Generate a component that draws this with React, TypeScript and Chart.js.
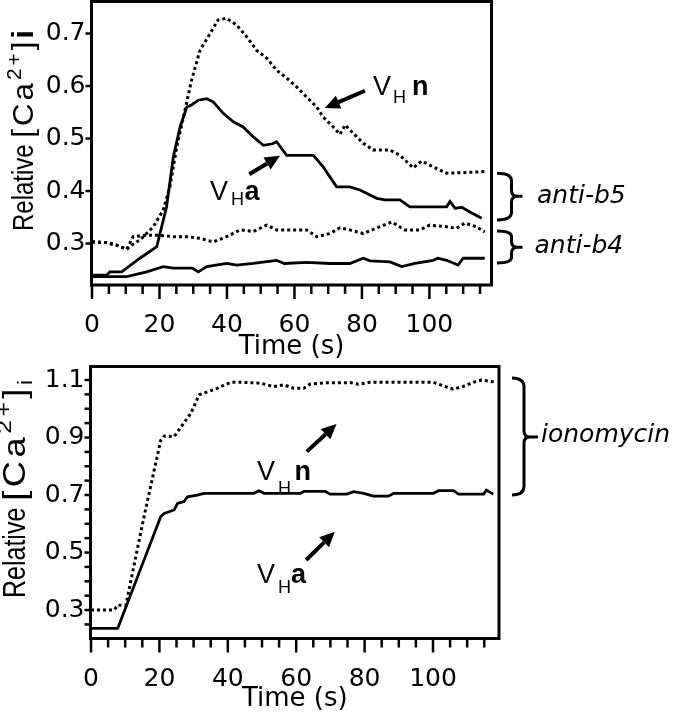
import { useEffect, useRef } from 'react';
import { Chart, registerables } from 'chart.js';
Chart.register(...registerables);

const SANS = '"Liberation Sans", Arial, sans-serif';
const WIDE = '"DejaVu Sans", sans-serif';

// ---------- Top panel: anti-b5 / anti-b4 ----------
const topN5Time = [0, 4, 7.3, 10.3, 12, 14.2, 16, 18.2, 21.1, 23.1, 25.1, 27.1, 29.5, 32, 35, 37.4, 39.9, 42.9, 45.8, 48.8, 51.8, 54.7, 57.7, 60.7, 63.6, 66.6, 68.5, 71.5, 73.5, 75, 77.4, 80.4, 83.3, 88.3, 91.3, 95.2, 97.7, 101.1, 105.1, 110, 116.4];
const topN5Val = [0.303, 0.302, 0.297, 0.289, 0.298, 0.307, 0.318, 0.332, 0.364, 0.408, 0.484, 0.541, 0.611, 0.668, 0.7, 0.726, 0.729, 0.716, 0.694, 0.668, 0.653, 0.63, 0.615, 0.598, 0.579, 0.56, 0.541, 0.522, 0.508, 0.526, 0.51, 0.491, 0.478, 0.478, 0.468, 0.444, 0.457, 0.446, 0.434, 0.435, 0.437];

const topA5Time = [0, 4.4, 5.3, 8.8, 14.2, 19.2, 22.1, 24.1, 26.1, 28.1, 29.5, 31.5, 34, 35.9, 38.9, 41.9, 44.8, 47.8, 50.8, 53.5, 54.7, 57.7, 65.6, 68.5, 72.5, 76.4, 79.4, 84.4, 86.8, 91.3, 94.2, 105.1, 106.1, 107.6, 109.6, 112, 115.5];
const topA5Val = [0.24, 0.24, 0.246, 0.246, 0.272, 0.294, 0.37, 0.465, 0.522, 0.56, 0.564, 0.573, 0.576, 0.57, 0.548, 0.532, 0.522, 0.503, 0.487, 0.49, 0.494, 0.468, 0.468, 0.446, 0.408, 0.408, 0.402, 0.386, 0.383, 0.383, 0.37, 0.37, 0.38, 0.367, 0.369, 0.36, 0.348];

const topN4Time = [0, 4, 7.3, 10.3, 12.2, 16.2, 19.2, 24.1, 28.1, 32, 35.9, 39.9, 43.9, 47.8, 51.8, 54.7, 63.6, 66.6, 70.5, 73.5, 76.4, 80.4, 85.3, 88.8, 92.7, 97.2, 100.1, 105.1, 108, 110.5, 113.9, 116.4];
const topN4Val = [0.303, 0.302, 0.297, 0.289, 0.313, 0.316, 0.316, 0.313, 0.313, 0.31, 0.303, 0.313, 0.326, 0.323, 0.335, 0.326, 0.326, 0.313, 0.319, 0.33, 0.326, 0.319, 0.332, 0.341, 0.326, 0.326, 0.335, 0.332, 0.329, 0.339, 0.332, 0.322];

const topA4Time = [0, 10.3, 16.2, 21.1, 24.1, 29.8, 31.5, 34, 39.9, 42.9, 47.8, 54.7, 57, 63.6, 70.5, 76.4, 80.4, 82.4, 88.3, 91.8, 95.7, 101.1, 102.5, 105.1, 108.5, 110, 116.4];
const topA4Val = [0.237, 0.237, 0.246, 0.256, 0.253, 0.253, 0.246, 0.256, 0.262, 0.259, 0.262, 0.268, 0.262, 0.264, 0.262, 0.262, 0.272, 0.267, 0.265, 0.256, 0.262, 0.268, 0.272, 0.268, 0.259, 0.272, 0.272];

const topXTicks = [0, 5, 10, 15, 20, 25, 30, 35, 40, 45, 50, 55, 60, 65, 70, 75, 80, 85, 90, 95, 100, 105, 110, 115];
const topXLabels = [0, 20, 40, 60, 80, 100];
const topYTicks = [0.3, 0.4, 0.5, 0.6, 0.7];
const topYLabels = [0.3, 0.4, 0.5, 0.6, 0.7];

// ---------- Bottom panel: ionomycin ----------
const botNTime = [0, 6.8, 7.8, 10.2, 15.5, 20.4, 21.4, 24.3, 26.7, 29.2, 31.6, 34, 36.9, 40.8, 43.7, 49.6, 53.4, 56.4, 59.3, 62.2, 64.1, 68, 75.8, 78.2, 81.6, 100.1, 103, 105.9, 108.9, 111.8, 114.2, 118.6];
const botNVal = [0.3, 0.3, 0.317, 0.317, 0.625, 0.891, 0.905, 0.903, 0.943, 0.984, 1.048, 1.059, 1.071, 1.092, 1.092, 1.089, 1.077, 1.083, 1.071, 1.071, 1.086, 1.09, 1.091, 1.085, 1.092, 1.092, 1.08, 1.068, 1.078, 1.092, 1.1, 1.092];

const botATime = [0, 7.8, 20.4, 21.4, 24.3, 25.3, 27.2, 28.2, 31.1, 33, 47.6, 49.1, 50.6, 61.3, 62.3, 68.5, 69.9, 74.8, 76.8, 79.7, 82.6, 87, 88.5, 100.1, 101.6, 106, 107.5, 114.8, 115.6, 117.6];
const botAVal = [0.236, 0.236, 0.625, 0.636, 0.648, 0.671, 0.677, 0.694, 0.7, 0.706, 0.706, 0.715, 0.706, 0.706, 0.713, 0.713, 0.703, 0.703, 0.712, 0.706, 0.696, 0.696, 0.706, 0.706, 0.715, 0.715, 0.703, 0.703, 0.717, 0.703];

const botXTicks = [0, 5, 10, 15, 20, 25, 30, 35, 40, 45, 50, 55, 60, 65, 70, 75, 80, 85, 90, 95, 100, 105, 110, 115];
const botXLabels = [0, 20, 40, 60, 80, 100];
const botYTicks = [0.25, 0.3, 0.35, 0.4, 0.45, 0.5, 0.55, 0.6, 0.65, 0.7, 0.75, 0.8, 0.85, 0.9, 0.95, 1.0, 1.05, 1.1];
const botYLabels = [0.3, 0.5, 0.7, 0.9, 1.1];

const has = (arr: number[], v: number) => arr.some((a) => Math.abs(a - v) < 1e-6);
const pts = (t: number[], v: number[]) => t.map((x, i) => ({ x, y: v[i] }));

type VH = { t: number; v: number; letter: string; hGap: number; hDy: number; gap: number };
type Arrow = { t1: number; v1: number; t2: number; v2: number };
type Brace = { v1: number; vMid: number; v2: number; xL: number; xV: number; xTip: number; text: string; textDx: number; textV: number };
type YTitle = { dx: number; dyFromBottom: number; subI: boolean; size: number; perp: number; brStretch: number; brGap: number };
type Ann = {
  xMajor: number[];
  yTitle: YTitle;
  labels: VH[];
  arrows: Arrow[];
  braces: Brace[];
};

function drawArrow(ctx: CanvasRenderingContext2D, x1: number, y1: number, x2: number, y2: number) {
  const ang = Math.atan2(y2 - y1, x2 - x1);
  const head = 15;
  const hw = 7;
  const bx = x2 - head * Math.cos(ang);
  const by = y2 - head * Math.sin(ang);
  ctx.lineWidth = 4;
  ctx.beginPath();
  ctx.moveTo(x1, y1);
  ctx.lineTo(bx, by);
  ctx.stroke();
  ctx.beginPath();
  ctx.moveTo(x2, y2);
  ctx.lineTo(bx + hw * Math.sin(ang), by - hw * Math.cos(ang));
  ctx.lineTo(bx - hw * Math.sin(ang), by + hw * Math.cos(ang));
  ctx.closePath();
  ctx.fill();
}

function drawBrace(ctx: CanvasRenderingContext2D, xL: number, xV: number, xTip: number, yTop: number, yMid: number, yBot: number) {
  const r = Math.min(9, (yMid - yTop) / 3);
  const r2 = 6;
  ctx.lineWidth = 3;
  ctx.beginPath();
  ctx.moveTo(xL, yTop);
  ctx.quadraticCurveTo(xV, yTop, xV, yTop + r);
  ctx.lineTo(xV, yMid - r2);
  ctx.quadraticCurveTo(xV, yMid, xV + 6, yMid);
  ctx.lineTo(xTip, yMid);
  ctx.moveTo(xV + 6, yMid);
  ctx.quadraticCurveTo(xV, yMid, xV, yMid + r2);
  ctx.lineTo(xV, yBot - r);
  ctx.quadraticCurveTo(xV, yBot, xL, yBot);
  ctx.stroke();
}

function drawYTitle(ctx: CanvasRenderingContext2D, x0: number, y0: number, yt: YTitle) {
  ctx.save();
  ctx.translate(x0, y0);
  ctx.rotate(-Math.PI / 2);
  ctx.scale(1, yt.perp);
  ctx.textAlign = 'left';
  ctx.textBaseline = 'alphabetic';
  const s = yt.size;
  ctx.font = `${s}px ${SANS}`;
  ctx.fillText('Relative', 0, 0);
  let x = ctx.measureText('Relative ').width;
  const small = Math.round(s * 0.68);
  const chars: { c: string; size: number; dy: number; bold?: boolean }[] = [
    { c: '[', size: s, dy: 0 },
    { c: 'C', size: s, dy: 0 },
    { c: 'a', size: s, dy: 0 },
    { c: '2', size: small, dy: -Math.round(s * 0.42) },
    { c: '+', size: small, dy: -Math.round(s * 0.42) },
    { c: ']', size: s, dy: 0 },
    yt.subI ? { c: 'i', size: small, dy: Math.round(s * 0.22) } : { c: 'i', size: s, dy: 0, bold: true },
  ];
  for (const ch of chars) {
    ctx.font = `${ch.bold ? 'bold ' : ''}${ch.size}px ${SANS}`;
    const w = ctx.measureText(ch.c).width;
    ctx.save();
    ctx.translate(x, ch.dy);
    ctx.scale(yt.brStretch, 1);
    ctx.fillText(ch.c, 0, 0);
    ctx.restore();
    x += w * yt.brStretch + yt.brGap;
  }
  ctx.restore();
}

function figurePlugin(ann: Ann) {
  return {
    id: 'figure',
    afterDraw(chart: any) {
      const { ctx, chartArea: a } = chart;
      const xs = chart.scales.x;
      const ys = chart.scales.y;
      const px = (t: number) => xs.getPixelForValue(t);
      const py = (v: number) => ys.getPixelForValue(v);
      ctx.save();
      ctx.strokeStyle = '#000';
      ctx.fillStyle = '#000';
      ctx.lineCap = 'butt';
      // frame
      ctx.lineWidth = 3;
      ctx.strokeRect(a.left, a.top, a.right - a.left, a.bottom - a.top);
      // tick marks
      ctx.lineWidth = 2.5;
      for (const tk of xs.ticks) {
        const x = px(tk.value);
        const len = has(ann.xMajor, tk.value) ? 14 : 9;
        ctx.beginPath();
        ctx.moveTo(x, a.bottom);
        ctx.lineTo(x, a.bottom + len);
        ctx.stroke();
      }
      for (const tk of ys.ticks) {
        const y = py(tk.value);
        ctx.beginPath();
        ctx.moveTo(a.left, y);
        ctx.lineTo(a.left - 6, y);
        ctx.stroke();
      }
      drawYTitle(ctx, a.left + ann.yTitle.dx, a.bottom + ann.yTitle.dyFromBottom, ann.yTitle);
      // V_H labels
      ctx.textAlign = 'left';
      ctx.textBaseline = 'alphabetic';
      for (const l of ann.labels) {
        const x = px(l.t);
        const y = py(l.v);
        ctx.font = `27px ${SANS}`;
        ctx.fillText('V', x, y);
        let cx = x + ctx.measureText('V').width + l.hGap;
        ctx.font = `18px ${SANS}`;
        ctx.fillText('H', cx, y + l.hDy);
        cx += ctx.measureText('H').width + l.gap;
        ctx.font = `bold 27px ${SANS}`;
        ctx.fillText(l.letter, cx, y);
      }
      // arrows
      for (const ar of ann.arrows) {
        drawArrow(ctx, px(ar.t1), py(ar.v1), px(ar.t2), py(ar.v2));
      }
      // braces with treatment labels
      for (const b of ann.braces) {
        drawBrace(ctx, a.right + b.xL, a.right + b.xV, a.right + b.xTip, py(b.v1), py(b.vMid), py(b.v2));
        ctx.font = `italic 25px ${WIDE}`;
        ctx.fillText(b.text, a.right + b.textDx, py(b.textV));
      }
      ctx.restore();
    },
  };
}

function baseConfig(opts: {
  datasets: any[];
  xMax: number;
  yMin: number;
  yMax: number;
  xTicks: number[];
  xLabels: number[];
  yTicks: number[];
  yLabels: number[];
  yWidth: number;
  xHeight: number;
  xLabelPad: number;
  padding: any;
  titleBottom: number;
  ann: Ann;
}) {
  return {
    type: 'line',
    data: { datasets: opts.datasets },
    options: {
      responsive: false,
      devicePixelRatio: 1,
      animation: false,
      layout: { padding: opts.padding },
      plugins: { legend: { display: false }, tooltip: { enabled: false }, title: { display: false } },
      elements: { point: { radius: 0 }, line: { tension: 0 } },
      scales: {
        x: {
          type: 'linear',
          min: -0.15,
          max: opts.xMax,
          afterBuildTicks: (s: any) => {
            s.ticks = opts.xTicks.map((v) => ({ value: v }));
          },
          afterFit: (s: any) => {
            s.height = opts.xHeight;
            s.paddingLeft = 0;
            s.paddingRight = 0;
          },
          grid: { display: false, drawTicks: false },
          border: { display: false },
          ticks: {
            autoSkip: false,
            maxRotation: 0,
            padding: opts.xLabelPad,
            color: '#000',
            font: { family: WIDE, size: 25 },
            callback: (v: number) => (has(opts.xLabels, v) ? String(v) : ''),
          },
          title: {
            display: true,
            text: 'Time (s)',
            color: '#000',
            font: { family: WIDE, size: 26 },
            padding: { top: 0, bottom: opts.titleBottom },
          },
        },
        y: {
          type: 'linear',
          min: opts.yMin,
          max: opts.yMax,
          afterBuildTicks: (s: any) => {
            s.ticks = opts.yTicks.map((v) => ({ value: v }));
          },
          afterFit: (s: any) => {
            s.width = opts.yWidth;
            s.paddingTop = 0;
            s.paddingBottom = 0;
          },
          grid: { display: false, drawTicks: false },
          border: { display: false },
          ticks: {
            autoSkip: false,
            padding: 6,
            color: '#000',
            font: { family: WIDE, size: 25 },
            callback: (v: number) => (has(opts.yLabels, v) ? v.toFixed(1) : ''),
          },
        },
      },
    },
    plugins: [figurePlugin(opts.ann)],
  } as any;
}

const dotted = { borderColor: '#000', borderWidth: 3, borderDash: [3, 3], pointRadius: 0, fill: false };
const solid = { borderColor: '#000', borderWidth: 2.8, pointRadius: 0, fill: false };

function topConfig() {
  return baseConfig({
    datasets: [
      { label: 'VHn anti-b5', data: pts(topN5Time, topN5Val), ...dotted },
      { label: 'VHa anti-b5', data: pts(topA5Time, topA5Val), ...solid },
      { label: 'VHn anti-b4', data: pts(topN4Time, topN4Val), ...dotted },
      { label: 'VHa anti-b4', data: pts(topA4Time, topA4Val), ...solid },
    ],
    xMax: 118.4,
    yMin: 0.221,
    yMax: 0.761,
    xTicks: topXTicks,
    xLabels: topXLabels,
    yTicks: topYTicks,
    yLabels: topYLabels,
    yWidth: 91.5,
    xHeight: 77,
    xLabelPad: 25,
    padding: { left: 0, right: 187.5, top: 1.5, bottom: 0 },
    titleBottom: -1,
    ann: {
      xMajor: topXLabels,
      yTitle: { dx: -58.5, dyFromBottom: -54, subI: false, size: 24, perp: 1.25, brStretch: 1.3, brGap: 3 },
      labels: [
        { t: 83.3, v: 0.583, letter: 'n', hGap: 2, hDy: 8, gap: 6 },
        { t: 35.0, v: 0.383, letter: 'a', hGap: 3, hDy: 5, gap: 0.5 },
      ],
      arrows: [
        { t1: 80.9, v1: 0.591, t2: 69.0, v2: 0.558 },
        { t1: 46.6, v1: 0.432, t2: 55.7, v2: 0.467 },
      ],
      braces: [
        { v1: 0.434, vMid: 0.39, v2: 0.345, xL: 5.5, xV: 20, xTip: 31, text: 'anti-b5', textDx: 45.5, textV: 0.377 },
        { v1: 0.324, vMid: 0.293, v2: 0.263, xL: 5.5, xV: 20, xTip: 31, text: 'anti-b4', textDx: 43, textV: 0.282 },
      ],
    },
  });
}

function bottomConfig() {
  return baseConfig({
    datasets: [
      { label: 'VHn ionomycin', data: pts(botNTime, botNVal), ...dotted },
      { label: 'VHa ionomycin', data: pts(botATime, botAVal), ...solid },
    ],
    xMax: 119.3,
    yMin: 0.201,
    yMax: 1.147,
    xTicks: botXTicks,
    xLabels: botXLabels,
    yTicks: botYTicks,
    yLabels: botYLabels,
    yWidth: 90.5,
    xHeight: 80.5,
    xLabelPad: 26,
    padding: { left: 0, right: 180, top: 4.5, bottom: 0 },
    titleBottom: 4,
    ann: {
      xMajor: botXLabels,
      yTitle: { dx: -65.5, dyFromBottom: -40.5, subI: true, size: 25, perp: 1.23, brStretch: 1.45, brGap: 3.5 },
      labels: [
        { t: 48.5, v: 0.752, letter: 'n', hGap: 3, hDy: 14, gap: 3.5 },
        { t: 48.5, v: 0.394, letter: 'a', hGap: 3, hDy: 10, gap: 0 },
      ],
      arrows: [
        { t1: 63.1, v1: 0.851, t2: 71.8, v2: 0.947 },
        { t1: 62.9, v1: 0.474, t2: 71.3, v2: 0.572 },
      ],
      braces: [
        { v1: 1.107, vMid: 0.902, v2: 0.7, xL: 13, xV: 25, xTip: 39, text: 'ionomycin', textDx: 42, textV: 0.884 },
      ],
    },
  });
}

export default function App() {
  const topRef = useRef<HTMLCanvasElement>(null);
  const botRef = useRef<HTMLCanvasElement>(null);
  useEffect(() => {
    const c1 = new Chart(topRef.current as HTMLCanvasElement, topConfig());
    const c2 = new Chart(botRef.current as HTMLCanvasElement, bottomConfig());
    return () => {
      c1.destroy();
      c2.destroy();
    };
  }, []);
  return (
    <div style={{ position: 'absolute', left: 0, top: 0, width: 679, height: 719, background: '#fff', overflow: 'hidden' }}>
      <canvas ref={topRef} width={679} height={362} style={{ position: 'absolute', left: 0, top: 0, display: 'block' }} />
      <canvas ref={botRef} width={679} height={357} style={{ position: 'absolute', left: 0, top: 362, display: 'block' }} />
    </div>
  );
}
